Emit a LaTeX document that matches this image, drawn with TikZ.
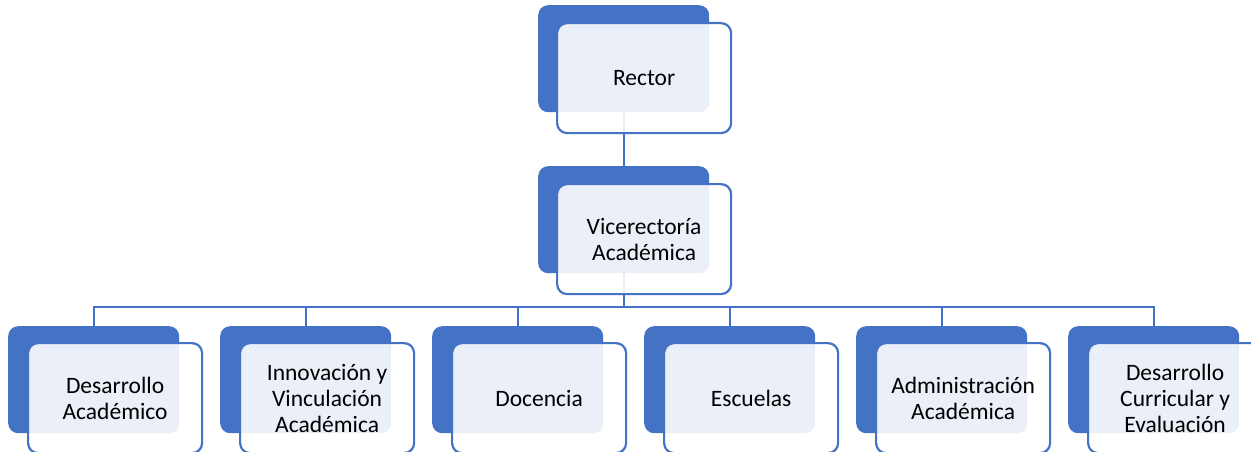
\documentclass[tikz,border=0pt]{standalone}
\usepackage{fontspec}
\setmainfont{Carlito}
\definecolor{sablue}{HTML}{4472C4}
\begin{document}
\begin{tikzpicture}[x=1pt,y=-1pt,
  backbox/.style={draw=none,fill=sablue,rounded corners=10pt,minimum width=171pt,minimum height=107pt,anchor=north west,inner sep=0pt},
  frontbox/.style={draw=sablue,line width=2.2pt,fill=white,fill opacity=0.89,text opacity=1,rounded corners=10pt,minimum width=174pt,minimum height=110pt,anchor=north west,inner sep=0pt,align=center,font=\fontsize{23.5}{26}\selectfont,text=black},
  conn/.style={draw=sablue,line width=2.2pt}]
\useasboundingbox (0,0) rectangle (1251,452);
% back boxes
\node[backbox] (rb) at (538,5) {};
\node[backbox] (vb) at (538,166) {};
\foreach \i in {0,...,5}{
  \node[backbox] (c\i b) at (8+212*\i,326) {};
}
% connectors
\coordinate (bus) at (623.5,307);
\draw[conn] (rb.south) -- (vb.north);
\foreach \i in {0,...,5}{
  \draw[conn] (vb.south) |- (bus) -| (c\i b.north);
}
% front boxes
\node[frontbox] (rf) at (556,22) {Rector};
\node[frontbox] (vf) at (556,183) {Vicerectoría\\Académica};
\node[frontbox] (c0f) at (27+212*0,342) {Desarrollo\\Académico};
\node[frontbox] (c1f) at (27+212*1,342) {Innovación y\\Vinculación\\Académica};
\node[frontbox] (c2f) at (27+212*2,342) {Docencia};
\node[frontbox] (c3f) at (27+212*3,342) {Escuelas};
\node[frontbox] (c4f) at (27+212*4,342) {Administración\\Académica};
\node[frontbox] (c5f) at (27+212*5,342) {Desarrollo\\Curricular y\\Evaluación};
\end{tikzpicture}
\end{document}
